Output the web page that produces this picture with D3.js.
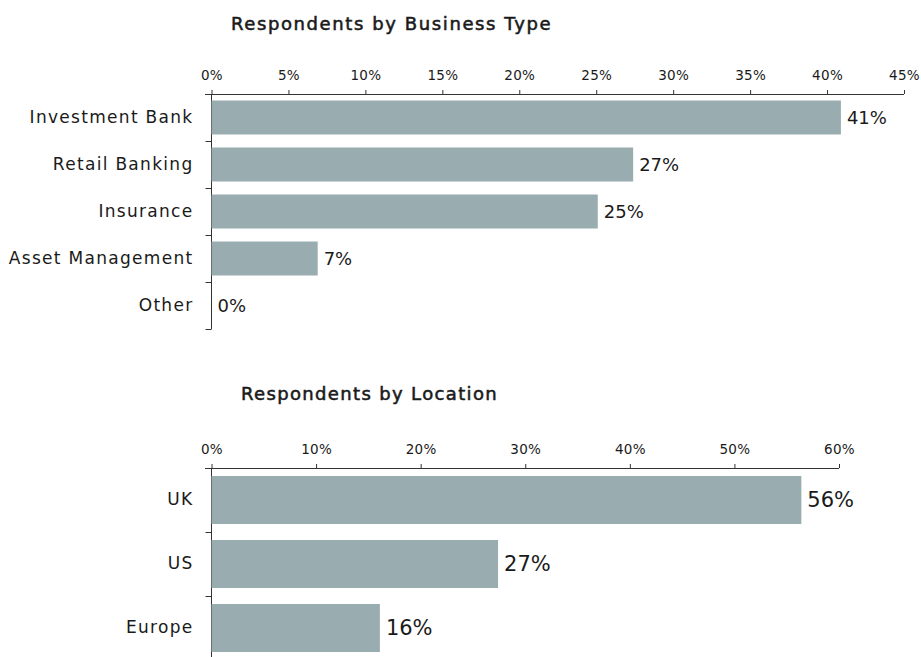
<!DOCTYPE html>
<html>
<head>
<meta charset="utf-8">
<script src="https://cdn.jsdelivr.net/npm/d3@7"></script>
<style>
  body { margin: 0; background: #fff; }
  svg text { font-family: "DejaVu Sans", sans-serif; fill: #1a1a1a; }
  .domain, .tick line { stroke: #333; }
</style>
</head>
<body>
<script>
// chart data
var businessTypes = ['Investment Bank', 'Retail Banking', 'Insurance', 'Asset Management', 'Other'];
var businessValues = [40.9, 27.4, 25.1, 6.9, 0];
var businessTicks = [0, 5, 10, 15, 20, 25, 30, 35, 40, 45];

var locations = ['UK', 'US', 'Europe'];
var locationValues = [56.4, 27.4, 16.1];
var locationTicks = [0, 10, 20, 30, 40, 50, 60];

var width = 921, height = 657;
var barColor = '#99acb0';

var svg = d3.select('body')
    .append('svg')
    .attr('width', width)
    .attr('height', height);

// one horizontal bar chart with the axis on top
function drawChart(opt) {
    var g = svg.append('g');

    var x = d3.scaleLinear()
        .domain([0, opt.max])
        .range([211.5, opt.right]);

    var y = d3.scaleBand()
        .domain(opt.cats)
        .range([opt.top, opt.bottom])
        .paddingInner(opt.pad)
        .paddingOuter(opt.pad / 2);

    // medium-weight title: regular face with a thin outline
    g.append('text')
        .attr('x', opt.titleX)
        .attr('y', opt.titleY)
        .attr('font-size', 18)
        .attr('letter-spacing', opt.titleSpacing)
        .attr('stroke', '#1a1a1a')
        .attr('stroke-width', 0.55)
        .text(opt.title);

    var xAxis = g.append('g')
        .attr('transform', 'translate(0,' + opt.top + ')')
        .call(d3.axisTop(x)
            .tickValues(opt.ticks)
            .tickSize(4)
            .tickSizeOuter(0)
            .tickPadding(10)
            .tickFormat(function(d) { return d + '%'; }));
    xAxis.selectAll('text').attr('font-size', 13.5).attr('letter-spacing', 0.3);
    // extend the top line to meet the category ticks
    xAxis.select('.domain').attr('d', 'M205,0.5H' + x(opt.max));

    var yAxis = g.append('g')
        .attr('transform', 'translate(211.5,0)')
        .call(d3.axisLeft(y).tickSize(0).tickPadding(18));
    yAxis.selectAll('text').attr('font-size', 17).attr('letter-spacing', 1.3);
    yAxis.select('.domain').attr('d', 'M0,' + opt.top + 'V' + opt.bottom);

    // ticks at the band boundaries
    var bounds = opt.cats.slice(1).map(function(c) { return y(c) - y.step() * y.paddingInner() / 2; });
    bounds.push(opt.bottom);
    yAxis.selectAll('.bound')
        .data(bounds)
        .enter().append('line')
        .attr('class', 'bound')
        .attr('x1', -6).attr('x2', 0)
        .attr('y1', function(d) { return Math.round(d) + 0.5; })
        .attr('y2', function(d) { return Math.round(d) + 0.5; })
        .attr('stroke', '#333');

    g.selectAll('.bar')
        .data(opt.values)
        .enter().append('rect')
        .attr('class', 'bar')
        .attr('x', x(0))
        .attr('y', function(d, i) { return y(opt.cats[i]); })
        .attr('width', function(d) { return x(d) - x(0); })
        .attr('height', y.bandwidth())
        .attr('fill', barColor);

    g.selectAll('.val')
        .data(opt.values)
        .enter().append('text')
        .attr('class', 'val')
        .attr('x', function(d) { return x(d) + 6; })
        .attr('y', function(d, i) { return y(opt.cats[i]) + y.bandwidth() / 2; })
        .attr('dy', '0.35em')
        .attr('font-size', opt.valSize)
        .text(function(d) { return Math.round(d) + '%'; });
}

drawChart({
    title: 'Respondents by Business Type', titleX: 231, titleY: 30, titleSpacing: 1.6,
    cats: businessTypes, values: businessValues, ticks: businessTicks,
    max: 45, right: 904, top: 94, bottom: 329, pad: 0.277, valSize: 18
});

drawChart({
    title: 'Respondents by Location', titleX: 241, titleY: 400, titleSpacing: 1.35,
    cats: locations, values: locationValues, ticks: locationTicks,
    max: 60, right: 839, top: 468, bottom: 660, pad: 0.25, valSize: 21
});
</script>
</body>
</html>
